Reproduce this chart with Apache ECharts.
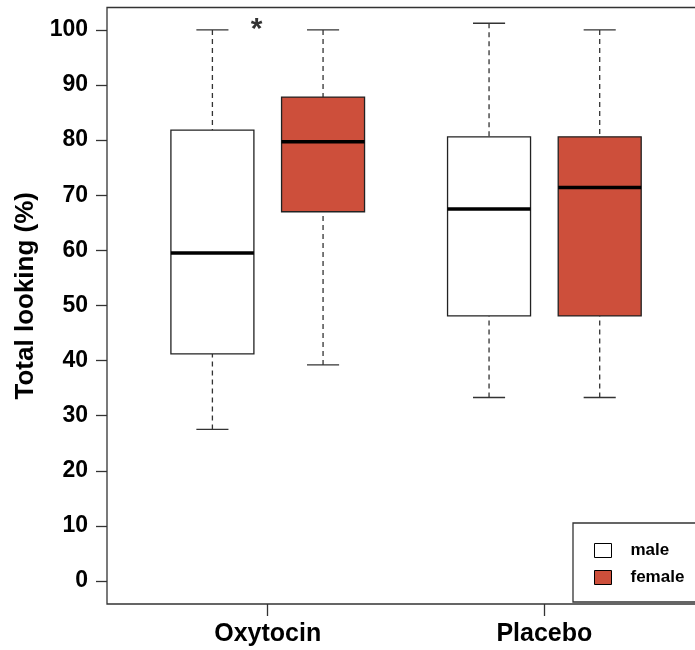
<!DOCTYPE html>
<html>
<head>
<meta charset="utf-8">
<script src="https://cdn.jsdelivr.net/npm/echarts@6/dist/echarts.min.js"></script>
<style>
  html, body { margin: 0; padding: 0; background: #fff; }
  #chart { width: 695px; height: 650px; }
</style>
</head>
<body>
<div id="chart"></div>
<script>
// groups on the x axis, placed at 1 and 2
const categories = ['Oxytocin', 'Placebo'];
// [lower whisker, Q1, median, Q3, upper whisker]
const maleStats = [
  [27.5, 41.2, 59.5, 81.8, 100],
  [33.3, 48.1, 67.5, 80.6, 101.2]
];
const femaleStats = [
  [39.2, 67.0, 79.7, 87.8, 100],
  [33.3, 48.1, 71.4, 80.6, 100]
];
const yTicks = [0, 10, 20, 30, 40, 50, 60, 70, 80, 90, 100];
const sigMark = [0.96, 100.0];

const colorList = ['#FFFFFF', '#CD4F3B'];
const offsets = [-0.2, 0.2];

const makeRender = (offset, fill) => (params, api) => {
  const x = api.value(0) + offset;
  const lo = api.coord([x, api.value(1)]);
  const q1 = api.coord([x, api.value(2)]);
  const md = api.coord([x, api.value(3)]);
  const q3 = api.coord([x, api.value(4)]);
  const hi = api.coord([x, api.value(5)]);
  const halfW = api.size([0.15, 0])[0];
  const capW = api.size([0.058, 0])[0];
  const dash = { stroke: '#333', lineWidth: 1.3, lineDash: [5, 4] };
  const solid = { stroke: '#333', lineWidth: 1.3 };
  return {
    type: 'group',
    children: [
      { type: 'line', shape: { x1: hi[0], y1: hi[1], x2: q3[0], y2: q3[1] }, style: dash },
      { type: 'line', shape: { x1: lo[0], y1: lo[1], x2: q1[0], y2: q1[1] }, style: dash },
      { type: 'line', shape: { x1: hi[0] - capW, y1: hi[1], x2: hi[0] + capW, y2: hi[1] }, style: solid },
      { type: 'line', shape: { x1: lo[0] - capW, y1: lo[1], x2: lo[0] + capW, y2: lo[1] }, style: solid },
      {
        type: 'rect',
        shape: { x: q3[0] - halfW, y: q3[1], width: halfW * 2, height: q1[1] - q3[1] },
        style: { fill: fill, stroke: '#222', lineWidth: 1.3 }
      },
      { type: 'line', shape: { x1: md[0] - halfW, y1: md[1], x2: md[0] + halfW, y2: md[1] }, style: { stroke: '#000', lineWidth: 3.5 } }
    ]
  };
};

const toData = (stats) => stats.map((s, i) => [i + 1].concat(s));

const myChart = echarts.init(document.getElementById('chart'), null, { renderer: 'canvas' });
const option = {
  animation: false,
  textStyle: { fontFamily: '"Liberation Sans", Arial, sans-serif' },
  grid: {
    left: 107,
    top: 7.5,
    width: 610,
    height: 596.5,
    outerBoundsMode: 'none',
    containLabel: false,
    show: true,
    borderColor: '#333',
    borderWidth: 1.3,
    backgroundColor: 'transparent'
  },
  legend: {
    orient: 'vertical',
    left: 573,
    top: 523,
    padding: [19, 40, 16, 21],
    borderColor: '#333',
    borderWidth: 1.3,
    backgroundColor: '#fff',
    itemWidth: 17,
    itemHeight: 14,
    itemGap: 10,
    textStyle: { fontSize: 17, fontWeight: 'bold', color: '#000', padding: [0, 0, 0, 14] },
    data: [
      { name: 'male', icon: 'rect', itemStyle: { color: colorList[0], borderColor: '#000', borderWidth: 1 } },
      { name: 'female', icon: 'rect', itemStyle: { color: colorList[1], borderColor: '#000', borderWidth: 1 } }
    ]
  },
  xAxis: {
    type: 'value',
    min: 0.419,
    max: 2.624,
    splitLine: { show: false },
    axisLine: { show: false, onZero: false },
    axisTick: { show: true, length: 12, customValues: [1, 2], lineStyle: { color: '#333', width: 1.3 } },
    axisLabel: {
      customValues: [1, 2],
      formatter: (v) => categories[Math.round(v) - 1] || '',
      fontSize: 25,
      fontWeight: 'bold',
      color: '#000',
      margin: 18
    }
  },
  yAxis: {
    type: 'value',
    min: -4.17,
    max: 104.06,
    name: 'Total looking (%)',
    nameLocation: 'middle',
    nameGap: 60,
    nameTextStyle: { fontSize: 26, fontWeight: 'bold', color: '#000', padding: [0, 0, 0, 20] },
    splitLine: { show: false },
    axisLine: { show: false, onZero: false },
    axisTick: { show: true, length: 11, customValues: yTicks, lineStyle: { color: '#333', width: 1.3 } },
    axisLabel: {
      customValues: yTicks,
      fontSize: 23,
      fontWeight: 'bold',
      color: '#000',
      margin: 19
    }
  },
  series: [
    {
      name: 'male',
      type: 'custom',
      itemStyle: { color: colorList[0], borderColor: '#000' },
      renderItem: makeRender(offsets[0], colorList[0]),
      data: toData(maleStats)
    },
    {
      name: 'female',
      type: 'custom',
      itemStyle: { color: colorList[1], borderColor: '#000' },
      renderItem: makeRender(offsets[1], colorList[1]),
      data: toData(femaleStats)
    },
    {
      type: 'scatter',
      symbolSize: 0,
      silent: true,
      label: {
        show: true,
        position: 'inside',
        formatter: '*',
        fontSize: 30,
        fontWeight: 'bold',
        color: '#000'
      },
      data: [sigMark]
    }
  ]
};
myChart.setOption(option);
</script>
</body>
</html>
